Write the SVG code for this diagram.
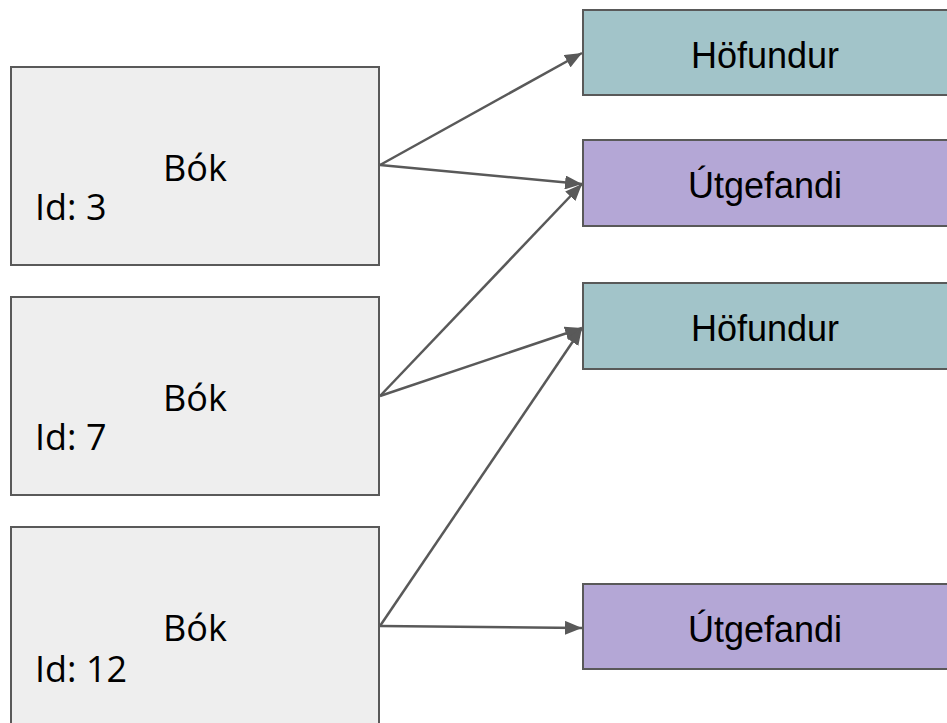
<svg xmlns="http://www.w3.org/2000/svg" width="947" height="723" viewBox="0 0 947 723">
<style>
.book{fill:#eeeeee;stroke:#595959;stroke-width:2}
.auth{fill:#a2c4c9;stroke:#595959;stroke-width:2}
.pub{fill:#b4a7d6;stroke:#595959;stroke-width:2}
.bt{font-family:"Open Sans","Noto Sans",sans-serif;font-size:36px;fill:#000}
.rt{font-family:"Liberation Sans",Arial,sans-serif;font-size:36px;fill:#000;text-anchor:middle}
.edge{stroke:#595959;stroke-width:2.5;fill:none;marker-end:url(#arr)}
</style>
<defs>
<marker id="arr" markerUnits="userSpaceOnUse" markerWidth="18" markerHeight="14" refX="17" refY="7" orient="auto">
<path d="M0,0 L17,7 L0,14 z" fill="#595959"/>
</marker>
</defs>
<rect width="947" height="723" fill="#ffffff"/>
<g id="book3">
<rect class="book" x="11" y="67" width="368" height="198"/>
<text class="bt" x="163" y="181">Bók</text>
<text class="bt" x="35" y="220">Id: 3</text>
</g>
<g id="book7">
<rect class="book" x="11" y="297" width="368" height="198"/>
<text class="bt" x="163" y="411">Bók</text>
<text class="bt" x="35" y="450">Id: 7</text>
</g>
<g id="book12">
<rect class="book" x="11" y="527" width="368" height="200"/>
<text class="bt" x="163" y="641">Bók</text>
<text class="bt" x="35" y="682">Id: 12</text>
</g>
<g id="author1">
<rect class="auth" x="583" y="10" width="366" height="85"/>
<text class="rt" x="765" y="68">Höfundur</text>
</g>
<g id="publisher1">
<rect class="pub" x="583" y="140" width="366" height="86"/>
<text class="rt" x="765" y="198">Útgefandi</text>
</g>
<g id="author2">
<rect class="auth" x="583" y="283" width="366" height="86"/>
<text class="rt" x="765" y="341">Höfundur</text>
</g>
<g id="publisher2">
<rect class="pub" x="583" y="584" width="366" height="85"/>
<text class="rt" x="765" y="642">Útgefandi</text>
</g>
<g id="connectors">
<line class="edge" x1="380" y1="165" x2="582" y2="53"/>
<line class="edge" x1="380" y1="165" x2="582" y2="184"/>
<line class="edge" x1="380" y1="396" x2="582" y2="184"/>
<line class="edge" x1="380" y1="396" x2="582" y2="328"/>
<line class="edge" x1="380" y1="626" x2="582" y2="328"/>
<line class="edge" x1="380" y1="626" x2="582" y2="628"/>
</g>
</svg>
